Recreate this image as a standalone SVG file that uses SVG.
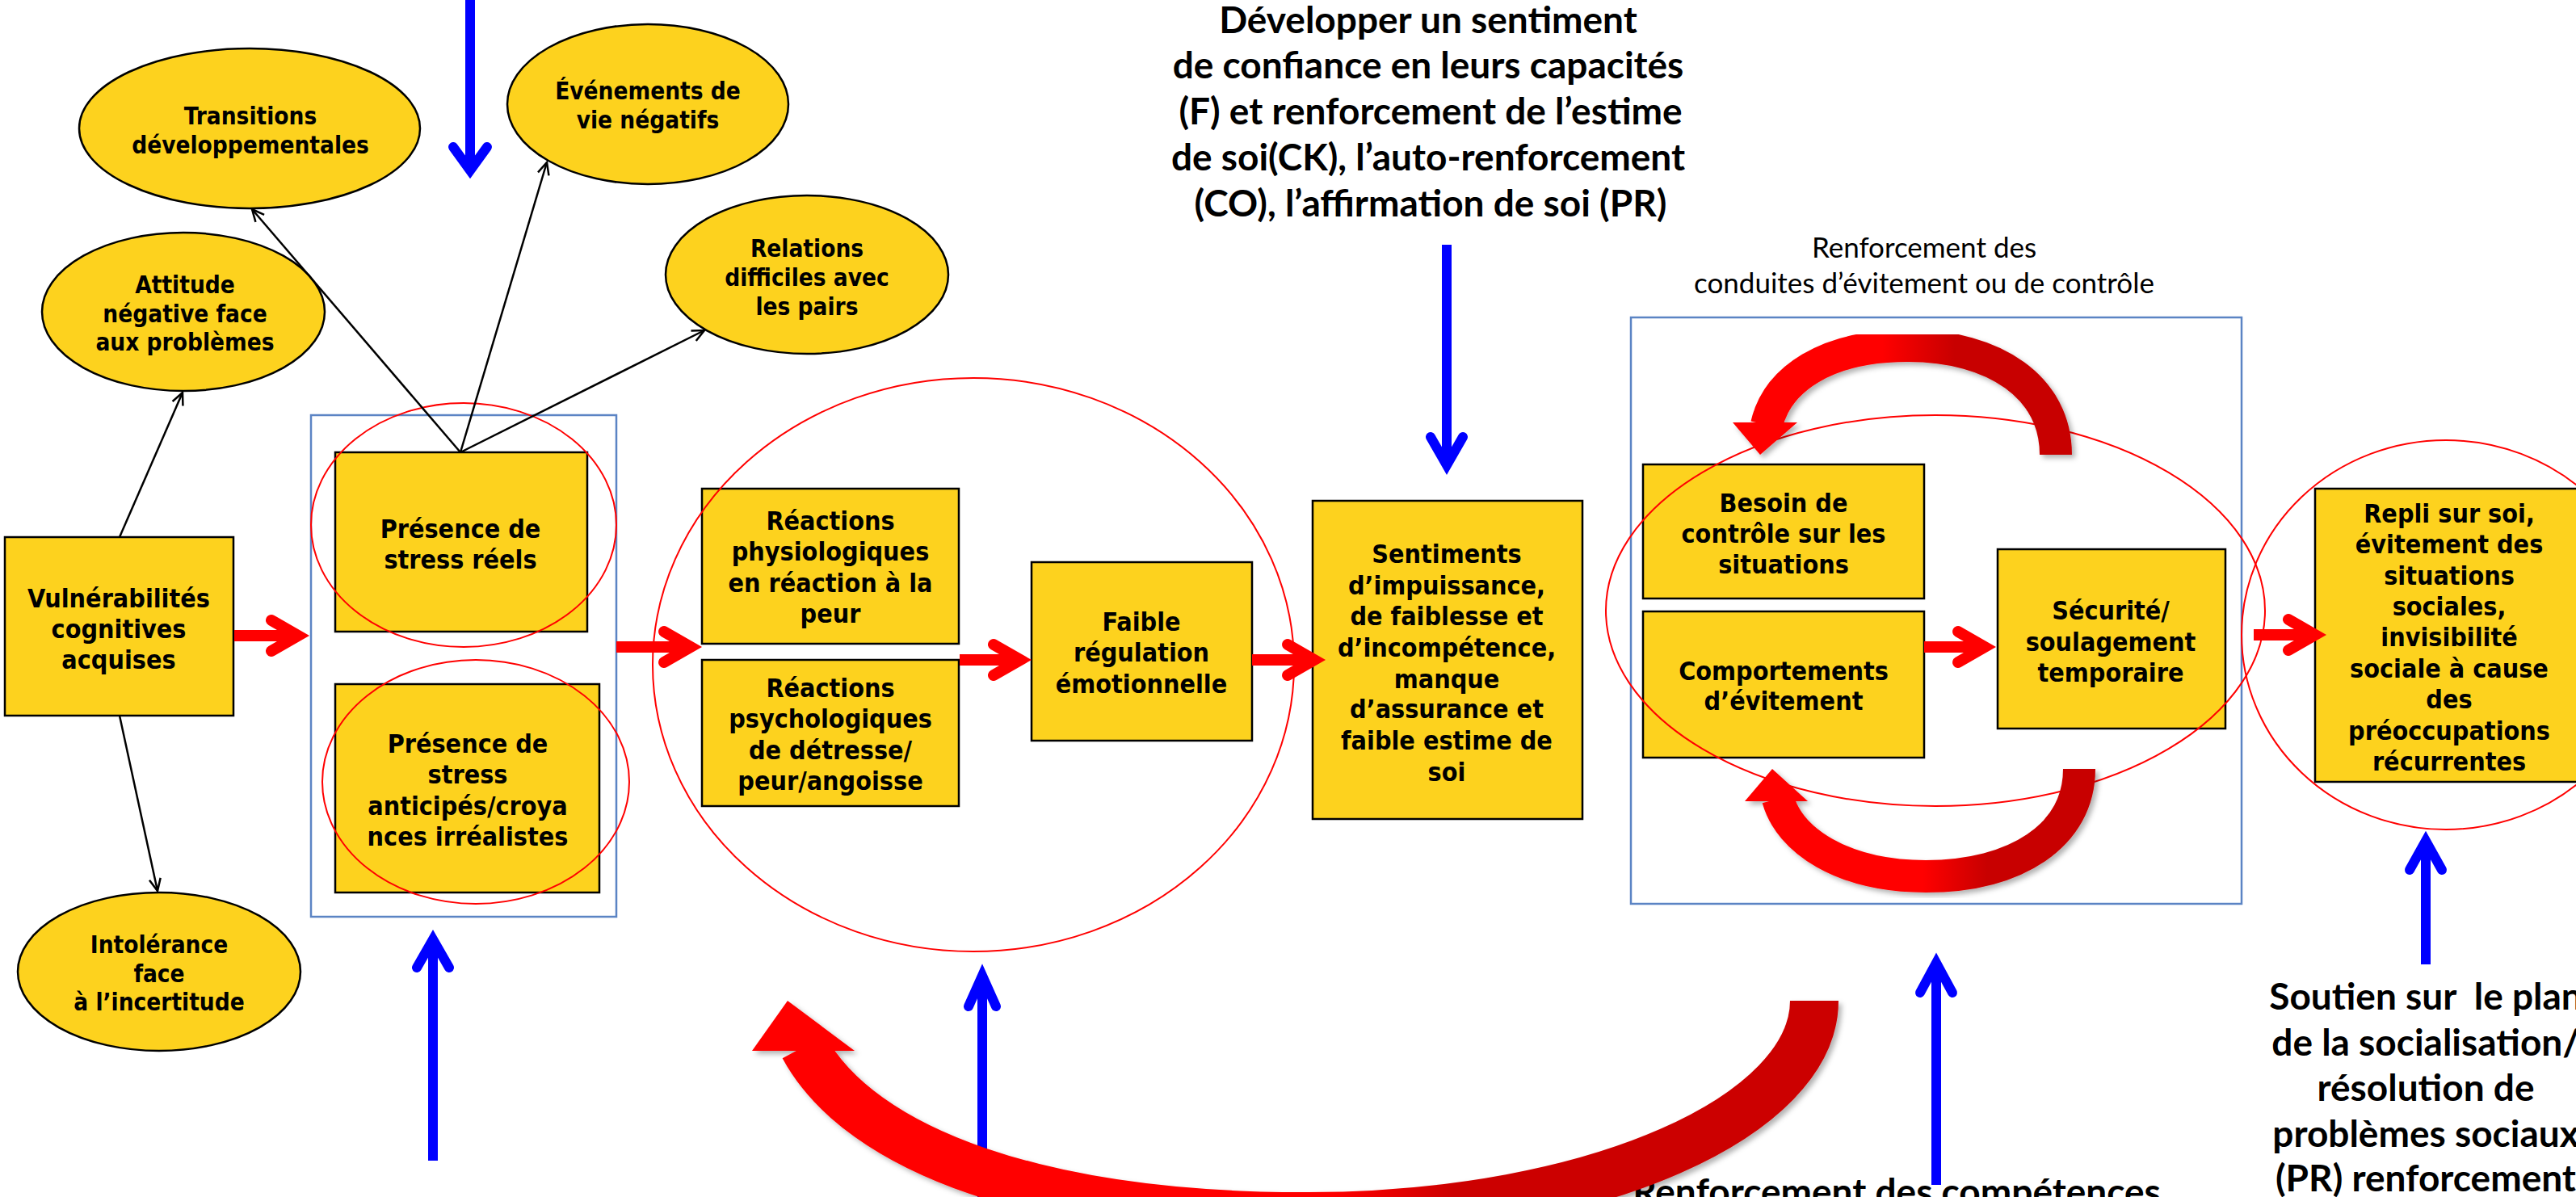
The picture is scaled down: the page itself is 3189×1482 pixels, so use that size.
<svg xmlns="http://www.w3.org/2000/svg" width="3189" height="1482" viewBox="0 0 3189 1482">
<defs>
<style>
.box{fill:#FDD21E;stroke:#000;stroke-width:2.5}
.oval{fill:#FDD21E;stroke:#000;stroke-width:2.5}
.ring{fill:none;stroke:#FF0000;stroke-width:2}
.grp{fill:none;stroke:#5B84C4;stroke-width:2.5}
.t{font-family:"DejaVu Sans Condensed","DejaVu Sans",sans-serif;font-stretch:condensed;font-weight:bold;font-size:32px;text-anchor:middle;fill:#000}
.to{font-family:"DejaVu Sans Condensed","DejaVu Sans",sans-serif;font-stretch:condensed;font-weight:bold;font-size:29.5px;text-anchor:middle;fill:#000}
.cal{font-family:Lato,"Open Sans",sans-serif;font-weight:bold;font-size:46px;text-anchor:middle;fill:#000}
.calr{font-family:Lato,"Open Sans",sans-serif;font-weight:normal;font-size:35px;text-anchor:middle;fill:#000}
.blk{stroke:#000;stroke-width:2.5;fill:none;marker-end:url(#openArrow)}
.rs{stroke:#FF0000;stroke-width:14;fill:none}
.rh{stroke:#FF0000;stroke-width:14;fill:none;stroke-linecap:round;stroke-linejoin:miter}
.bs{stroke:#0000FF;stroke-width:12;fill:none}
.bh{stroke:#0000FF;stroke-width:12;fill:none;stroke-linecap:round;stroke-linejoin:miter}
</style>
<marker id="openArrow" viewBox="0 0 20 20" refX="18" refY="10" markerWidth="20" markerHeight="20" markerUnits="userSpaceOnUse" orient="auto">
<path d="M3,3 L18,10 L3,17" fill="none" stroke="#000" stroke-width="2.5"/>
</marker>
<linearGradient id="gBig" gradientUnits="userSpaceOnUse" x1="1650" y1="0" x2="1800" y2="0">
<stop offset="0" stop-color="#FF0000"/><stop offset="1" stop-color="#CC0000"/>
</linearGradient>
<linearGradient id="gTop" gradientUnits="userSpaceOnUse" x1="2330" y1="0" x2="2420" y2="0">
<stop offset="0" stop-color="#FF0000"/><stop offset="1" stop-color="#C80000"/>
</linearGradient>
<linearGradient id="gBot" gradientUnits="userSpaceOnUse" x1="2380" y1="0" x2="2460" y2="0">
<stop offset="0" stop-color="#FF0000"/><stop offset="1" stop-color="#C80000"/>
</linearGradient>
<filter id="sh" x="-10%" y="-10%" width="130%" height="130%">
<feDropShadow dx="4" dy="4" stdDeviation="3" flood-color="#000" flood-opacity="0.3"/>
</filter>
</defs>
<rect width="3189" height="1482" fill="#FFFFFF"/>

<!-- group frames -->
<g id="frames">
<rect class="grp" x="385" y="514" width="378" height="621"/>
<rect class="grp" x="2019" y="393" width="756" height="726"/>
</g>

<!-- ellipse nodes -->
<g id="n-transitions"><ellipse class="oval" cx="309" cy="159" rx="211" ry="99"/>
<text class="to"><tspan x="310" y="153.5">Transitions</tspan><tspan x="310" y="189.5">développementales</tspan></text></g>
<g id="n-evenements"><ellipse class="oval" cx="802" cy="129" rx="174" ry="99"/>
<text class="to"><tspan x="802" y="123">Événements de</tspan><tspan x="802" y="159">vie négatifs</tspan></text></g>
<g id="n-attitude"><ellipse class="oval" cx="227" cy="386" rx="175" ry="98"/>
<text class="to"><tspan x="229" y="363">Attitude</tspan><tspan x="229" y="398.5">négative face</tspan><tspan x="229" y="434">aux problèmes</tspan></text></g>
<g id="n-relations"><ellipse class="oval" cx="999" cy="340" rx="175" ry="98"/>
<text class="to"><tspan x="999" y="318">Relations</tspan><tspan x="999" y="354">difficiles avec</tspan><tspan x="999" y="390">les pairs</tspan></text></g>
<g id="n-intolerance"><ellipse class="oval" cx="197" cy="1203" rx="175" ry="98"/>
<text class="to"><tspan x="197" y="1180">Intolérance</tspan><tspan x="197" y="1216">face</tspan><tspan x="197" y="1251">à l’incertitude</tspan></text></g>

<!-- box nodes -->
<g id="n-vuln"><rect class="box" x="6" y="665" width="283" height="221"/>
<text class="t"><tspan x="147" y="752">Vulnérabilités</tspan><tspan x="147" y="790">cognitives</tspan><tspan x="147" y="828">acquises</tspan></text></g>
<g id="n-reels"><rect class="box" x="415" y="560" width="312" height="222"/>
<text class="t"><tspan x="570" y="665.5">Présence de</tspan><tspan x="570" y="703.5">stress réels</tspan></text></g>
<g id="n-anticipes"><rect class="box" x="415" y="847" width="327" height="258"/>
<text class="t"><tspan x="579" y="932">Présence de</tspan><tspan x="579" y="970">stress</tspan><tspan x="579" y="1009">anticipés/croya</tspan><tspan x="579" y="1047">nces irréalistes</tspan></text></g>
<g id="n-physio"><rect class="box" x="869" y="605" width="318" height="192"/>
<text class="t"><tspan x="1028" y="656">Réactions</tspan><tspan x="1028" y="694">physiologiques</tspan><tspan x="1028" y="733">en réaction à la</tspan><tspan x="1028" y="771">peur</tspan></text></g>
<g id="n-psycho"><rect class="box" x="869" y="817" width="318" height="181"/>
<text class="t"><tspan x="1028" y="863">Réactions</tspan><tspan x="1028" y="901">psychologiques</tspan><tspan x="1028" y="940">de détresse/</tspan><tspan x="1028" y="978">peur/angoisse</tspan></text></g>
<g id="n-faible"><rect class="box" x="1277" y="696" width="273" height="221"/>
<text class="t"><tspan x="1413" y="781">Faible</tspan><tspan x="1413" y="819">régulation</tspan><tspan x="1413" y="858">émotionnelle</tspan></text></g>
<g id="n-sentiments"><rect class="box" x="1625" y="620" width="334" height="394"/>
<text class="t"><tspan x="1791" y="696.5">Sentiments</tspan><tspan x="1791" y="735.5">d’impuissance,</tspan><tspan x="1791" y="773.5">de faiblesse et</tspan><tspan x="1791" y="812.5">d’incompétence,</tspan><tspan x="1791" y="851.5">manque</tspan><tspan x="1791" y="888.5">d’assurance et</tspan><tspan x="1791" y="927.5">faible estime de</tspan><tspan x="1791" y="966.5">soi</tspan></text></g>
<g id="n-besoin"><rect class="box" x="2034" y="575" width="348" height="166"/>
<text class="t"><tspan x="2208" y="633.5">Besoin de</tspan><tspan x="2208" y="671.5">contrôle sur les</tspan><tspan x="2208" y="709.5">situations</tspan></text></g>
<g id="n-comport"><rect class="box" x="2034" y="757" width="348" height="181"/>
<text class="t"><tspan x="2208" y="841.5">Comportements</tspan><tspan x="2208" y="878.5">d’évitement</tspan></text></g>
<g id="n-securite"><rect class="box" x="2473" y="680" width="282" height="222"/>
<text class="t"><tspan x="2613" y="766.5">Sécurité/</tspan><tspan x="2613" y="805.5">soulagement</tspan><tspan x="2613" y="843.5">temporaire</tspan></text></g>
<g id="n-repli"><rect class="box" x="2866" y="605" width="332" height="363"/>
<text class="t"><tspan x="3032" y="646.5">Repli sur soi,</tspan><tspan x="3032" y="685">évitement des</tspan><tspan x="3032" y="723.5">situations</tspan><tspan x="3032" y="762">sociales,</tspan><tspan x="3032" y="800">invisibilité</tspan><tspan x="3032" y="838.5">sociale à cause</tspan><tspan x="3032" y="877">des</tspan><tspan x="3032" y="915.5">préoccupations</tspan><tspan x="3032" y="954">récurrentes</tspan></text></g>

<!-- red highlight rings -->
<g id="rings">
<ellipse class="ring" cx="574" cy="650" rx="189" ry="151"/>
<ellipse class="ring" cx="589" cy="968" rx="190" ry="151"/>
<ellipse class="ring" cx="1205" cy="823" rx="397" ry="355"/>
<ellipse class="ring" cx="2396" cy="756" rx="408" ry="242"/>
<ellipse class="ring" cx="3028" cy="786" rx="253" ry="241"/>
</g>

<!-- labels -->
<g id="labels">
<text class="cal"><tspan x="1768" y="41">Développer un sentiment</tspan><tspan x="1768" y="97">de confiance en leurs capacités</tspan><tspan x="1771" y="154">(F) et renforcement de l’estime</tspan><tspan x="1768" y="211">de soi(CK), l’auto-renforcement</tspan><tspan x="1771" y="268">(CO), l’affirmation de soi (PR)</tspan></text>
<text class="calr"><tspan x="2382" y="319">Renforcement des</tspan><tspan x="2382" y="363">conduites d’évitement ou de contrôle</tspan></text>
<text class="cal" xml:space="preserve"><tspan x="3003" y="1250">Soutien sur  le plan</tspan><tspan x="3003" y="1307">de la socialisation/</tspan><tspan x="3003" y="1363">résolution de</tspan><tspan x="3003" y="1420">problèmes sociaux</tspan><tspan x="3003" y="1475">(PR) renforcement</tspan></text>
<text class="cal" x="2348" y="1492">Renforcement des compétences</text>
</g>

<!-- connectors -->
<g id="connectors">
<!-- black thin arrows -->
<line class="blk" x1="148" y1="665" x2="226" y2="486"/>
<line class="blk" x1="148" y1="886" x2="195" y2="1103"/>
<line class="blk" x1="570" y1="560" x2="312" y2="259"/>
<line class="blk" x1="570" y1="560" x2="677" y2="201"/>
<line class="blk" x1="570" y1="560" x2="872" y2="409"/>

<!-- red block arrows -->
<path class="rs" d="M290 787 H369"/><path class="rh" d="M336 768 L369 787 L336 806"/>
<path class="rs" d="M763 801 H855"/><path class="rh" d="M822 782 L855 801 L822 820"/>
<path class="rs" d="M1188 817 H1263"/><path class="rh" d="M1230 798 L1263 817 L1230 836"/>
<path class="rs" d="M1550 817 H1627"/><path class="rh" d="M1594 798 L1627 817 L1594 836"/>
<path class="rs" d="M2382 801 H2457"/><path class="rh" d="M2424 782 L2457 801 L2424 820"/>
<path class="rs" d="M2790 786 H2866"/><path class="rh" d="M2833 767 L2866 786 L2833 805"/>

<!-- blue arrows -->
<path class="bs" d="M582 0 V211"/><path class="bh" d="M561 182 L582 211 L603 182"/>
<path class="bs" d="M1791 303 V576"/><path class="bh" d="M1771 541 L1791 576 L1811 541"/>
<path class="bs" d="M536 1437 V1163"/><path class="bh" d="M516 1198 L536 1163 L556 1198"/>
<path class="bs" d="M1216 1482 V1208"/><path class="bh" d="M1199 1246 L1216 1208 L1233 1246"/>
<path class="bs" d="M2397 1467 V1192"/><path class="bh" d="M2377 1229 L2397 1192 L2417 1229"/>
<path class="bs" d="M3003 1194 V1041"/><path class="bh" d="M2983 1077 L3003 1041 L3023 1077"/>

<!-- curved feedback arrows -->
<g filter="url(#sh)">
<path d="M2545 563 C2545 480 2470 428 2362 428 C2260 428 2200 470 2187 526" fill="none" stroke="url(#gTop)" stroke-width="40"/>
<polygon points="2145,523 2225,523 2179,563" fill="#FF0000"/>
</g>
<g filter="url(#sh)">
<path d="M2574 952 C2574 1035 2495 1085 2384 1085 C2280 1085 2215 1040 2201 989" fill="none" stroke="url(#gBot)" stroke-width="40"/>
<polygon points="2160,992 2238,992 2194,952" fill="#FF0000"/>
</g>
<g filter="url(#sh)">
<path d="M2246 1239 C2246 1380 1980 1505 1620 1506 C1290 1507 1065 1425 995 1296" fill="none" stroke="url(#gBig)" stroke-width="60"/>
<polygon points="931,1301 1058,1301 975,1239" fill="#FF0000"/>
</g>
</g>
</svg>
